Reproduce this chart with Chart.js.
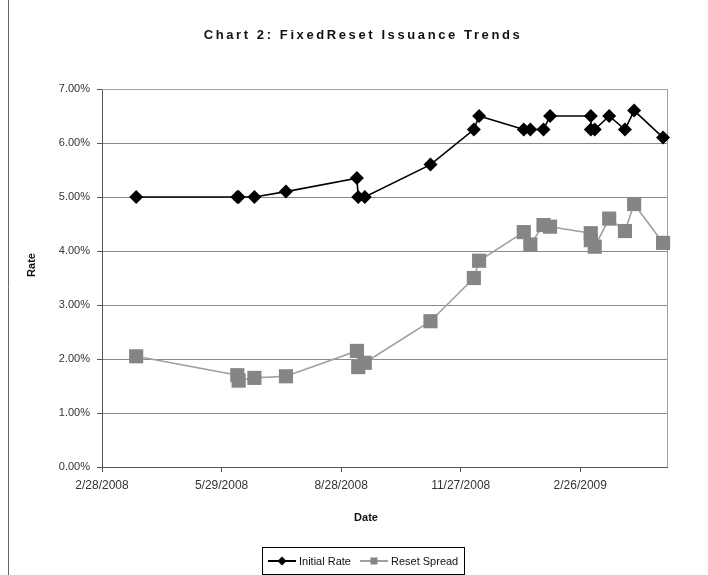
<!DOCTYPE html>
<html>
<head>
<meta charset="utf-8">
<script src="https://cdn.jsdelivr.net/npm/chart.js@4/dist/chart.umd.min.js"></script>
<style>
html, body { margin: 0; padding: 0; background: #fff; }
#wrap { width: 708px; height: 575px; }
</style>
</head>
<body>
<div id="wrap"><canvas id="c" width="708" height="575"></canvas></div>
<script>
// one entry per FixedReset issue
const issueDates = [
    '2008-03-25', '2008-06-10', '2008-06-11', '2008-06-23', '2008-07-17',
    '2008-09-09', '2008-09-10', '2008-09-15', '2008-11-04', '2008-12-07',
    '2008-12-11', '2009-01-14', '2009-01-19', '2009-01-29', '2009-02-03',
    '2009-03-06', '2009-03-06', '2009-03-09', '2009-03-20', '2009-04-01',
    '2009-04-08', '2009-04-30'
];
const initialRate = [
    5.00, 5.00, 5.00, 5.00, 5.10,
    5.35, 5.00, 5.00, 5.60, 6.25,
    6.50, 6.25, 6.25, 6.25, 6.50,
    6.50, 6.25, 6.25, 6.50, 6.25,
    6.60, 6.10
];
const resetSpread = [
    2.05, 1.70, 1.60, 1.65, 1.68,
    2.15, 1.85, 1.93, 2.70, 3.50,
    3.82, 4.35, 4.12, 4.48, 4.45,
    4.33, 4.20, 4.08, 4.60, 4.37,
    4.87, 4.15
];
// x axis (dates)
const axisStart = '2008-02-28';
const axisEnd = '2009-05-03';
const dateTicks = ['2008-02-28', '2008-05-29', '2008-08-28', '2008-11-27', '2009-02-26'];
// y axis (rate in %)
const rateMin = 0;
const rateMax = 7;
const rateStep = 1;

const FONT = '"Liberation Sans", Arial, sans-serif';

//jours depuis le début de l'axe
function dayNum(s) {
    const p = s.split('-');
    const b = axisStart.split('-');
    return (Date.UTC(+p[0], +p[1] - 1, +p[2]) - Date.UTC(+b[0], +b[1] - 1, +b[2])) / 86400000;
}
function dayLabel(v) {
    const b = axisStart.split('-');
    const d = new Date(Date.UTC(+b[0], +b[1] - 1, +b[2]) + v * 86400000);
    return (d.getUTCMonth() + 1) + '/' + d.getUTCDate() + '/' + d.getUTCFullYear();
}

const xs = issueDates.map(dayNum);

//titre, titres des axes, bordure du graphe et légende
const decor = {
    id: 'decor',
    beforeDatasetsDraw(chart) {
        const ctx = chart.ctx, a = chart.chartArea;
        ctx.save();
        ctx.strokeStyle = '#a0a0a0';
        ctx.lineWidth = 1;
        ctx.beginPath();
        ctx.moveTo(a.left, Math.round(a.top) + 0.5);
        ctx.lineTo(Math.round(a.right) + 0.5, Math.round(a.top) + 0.5);
        ctx.lineTo(Math.round(a.right) + 0.5, a.bottom);
        ctx.stroke();
        ctx.restore();
    },
    afterDraw(chart) {
        const ctx = chart.ctx;
        ctx.save();
        // outer frame (left edge visible)
        ctx.strokeStyle = '#666';
        ctx.lineWidth = 1;
        ctx.beginPath();
        ctx.moveTo(8.5, 0);
        ctx.lineTo(8.5, 575);
        ctx.stroke();

        // title
        ctx.fillStyle = '#111';
        ctx.font = 'bold 13px ' + FONT;
        ctx.letterSpacing = '2.6px';
        ctx.textAlign = 'center';
        ctx.textBaseline = 'middle';
        ctx.fillText('Chart 2: FixedReset Issuance Trends', 363, 35);
        ctx.letterSpacing = '0px';

        // axis titles
        ctx.font = 'bold 11px ' + FONT;
        ctx.fillText('Date', 366, 518);
        ctx.save();
        ctx.translate(32, 265);
        ctx.rotate(-Math.PI / 2);
        ctx.fillText('Rate', 0, 0);
        ctx.restore();

        // legend
        ctx.font = '11px ' + FONT;
        ctx.textAlign = 'left';
        const lineLen = 28, gap = 3, itemGap = 9, padX = 6;
        const items = chart.data.datasets.map(ds => ({
            label: ds.label, line: ds.borderColor, fill: ds.pointBackgroundColor,
            style: ds.pointStyle, w: ctx.measureText(ds.label).width
        }));
        let total = padX * 2 + itemGap * (items.length - 1);
        items.forEach(it => { total += lineLen + gap + it.w; });
        const cx = 363, cy = 561;
        let x = Math.round(cx - total / 2);
        ctx.strokeStyle = '#000';
        ctx.strokeRect(x + 0.5, cy - 13.5, Math.round(total), 27);
        x += padX;
        items.forEach(it => {
            ctx.strokeStyle = it.line;
            ctx.lineWidth = 2;
            ctx.beginPath();
            ctx.moveTo(x, cy);
            ctx.lineTo(x + lineLen, cy);
            ctx.stroke();
            const mx = x + lineLen / 2;
            ctx.fillStyle = it.fill;
            ctx.beginPath();
            if (it.style === 'rectRot') {
                ctx.moveTo(mx, cy - 4.5); ctx.lineTo(mx + 4.5, cy);
                ctx.lineTo(mx, cy + 4.5); ctx.lineTo(mx - 4.5, cy);
            } else {
                ctx.rect(mx - 3.5, cy - 3.5, 7, 7);
            }
            ctx.closePath();
            ctx.fill();
            x += lineLen + gap;
            ctx.fillStyle = '#111';
            ctx.fillText(it.label, x, cy + 0.5);
            x += it.w + itemGap;
        });
        ctx.restore();
    }
};

const ctx = document.getElementById('c').getContext('2d');
new Chart(ctx, {
    type: 'line',
    data: {
        datasets: [{
            label: 'Initial Rate',
            data: xs.map((x, i) => ({ x: x, y: initialRate[i] })),
            borderColor: '#000',
            borderWidth: 1.6,
            pointStyle: 'rectRot',
            pointRadius: 7,
            pointBackgroundColor: '#000',
            pointBorderWidth: 0,
            clip: false
        }, {
            label: 'Reset Spread',
            data: xs.map((x, i) => ({ x: x, y: resetSpread[i] })),
            borderColor: '#a0a0a0',
            borderWidth: 1.6,
            pointStyle: 'rect',
            pointRadius: 10,
            pointBackgroundColor: '#858585',
            pointBorderWidth: 0,
            clip: false
        }]
    },
    options: {
        responsive: false,
        animation: false,
        layout: { padding: { top: 89, right: 41, bottom: 40, left: 0 } },
        plugins: {
            legend: { display: false },
            title: { display: false },
            tooltip: { enabled: false }
        },
        scales: {
            x: {
                type: 'linear',
                min: 0,
                max: dayNum(axisEnd),
                afterBuildTicks: axis => { axis.ticks = dateTicks.map(d => ({ value: dayNum(d) })); },
                afterFit: axis => { axis.height = 68; },
                ticks: {
                    callback: v => dayLabel(v),
                    maxRotation: 0,
                    autoSkip: false,
                    padding: 6,
                    color: '#333',
                    font: { family: FONT, size: 12 }
                },
                grid: { drawOnChartArea: false, tickLength: 5, tickColor: '#555' },
                border: { color: '#555' }
            },
            y: {
                min: rateMin,
                max: rateMax,
                afterFit: axis => { axis.width = 102; },
                ticks: {
                    stepSize: rateStep,
                    callback: v => v.toFixed(2) + '%',
                    padding: 7,
                    color: '#333',
                    font: { family: FONT, size: 11 }
                },
                grid: { color: '#8a8a8a', tickLength: 5, tickColor: '#555' },
                border: { color: '#555' }
            }
        }
    },
    plugins: [decor]
});
</script>
</body>
</html>
